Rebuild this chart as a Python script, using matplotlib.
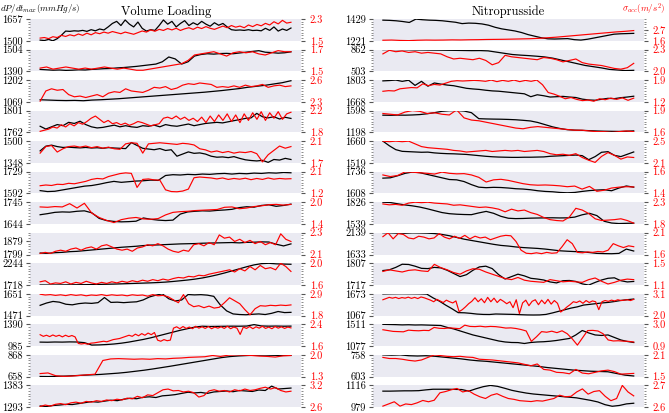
import numpy as np
import matplotlib
matplotlib.use('Agg')
import matplotlib.pyplot as plt

plt.rcParams['font.family'] = 'serif'
plt.rcParams['font.serif'] = ['cmr10']
plt.rcParams['mathtext.fontset'] = 'cm'
plt.rcParams['axes.unicode_minus'] = False

# ---------------- Volume Loading (left column) ----------------
# dP/dt max (mmHg/s) -> black, sigma acc (m/s^2) -> red
vl1_dp = [1505,1502,1510,1500,1515,1540,1570,1568,1572,1570,1575,1568,1580,1572,1585,1578,1600,1625,1640,1610,
          1650,1620,1600,1635,1590,1570,1580,1575,1610,1650,1620,1640,1600,1625,1645,1610,1630,1615,1640,1620,
          1605,1630,1612,1625,1600,1580,1576,1578,1575,1580,1574,1576,1572,1590,1575,1600,1570,1585,1575,1592]
vl1_acc = [1.60,1.62,1.58,1.65,1.62,1.70,1.66,1.72,1.68,1.75,1.70,1.78,1.72,1.80,1.76,1.82,1.78,1.84,1.80,1.76,
           1.82,1.78,1.74,1.80,1.86,1.82,1.90,1.85,1.92,1.88,1.95,1.90,1.96,1.88,1.94,1.98,1.92,2.00,1.95,2.02,
           1.96,1.92,1.98,2.04,1.98,2.06,2.00,2.04,1.98,2.08,2.02,2.10,2.05,2.14,2.08,2.20,2.12,2.25,2.15,2.18]
vl2_dp = [1400,1398,1396,1397,1395,1396,1398,1397,1400,1402,1404,1405,1408,1410,1413,1416,1420,1424,1428,1440,
          1465,1455,1428,1440,1470,1478,1482,1480,1483,1484,1482,1486,1490,1494,1498,1490,1488,1485,1487,1492]
vl2_acc = [1.53,1.54,1.52,1.53,1.54,1.53,1.52,1.53,1.52,1.53,1.54,1.53,1.52,1.53,1.52,1.51,1.51,1.52,1.53,1.54,
           1.55,1.56,1.57,1.60,1.65,1.66,1.67,1.68,1.66,1.64,1.67,1.68,1.67,1.68,1.66,1.65,1.67,1.69,1.68,1.68]
vl3_dp = [1082,1080,1078,1077,1078,1076,1080,1082,1085,1088,1092,1096,1100,1104,1108,1112,1116,1120,1124,1128,
          1133,1138,1144,1150,1158,1164,1170,1178,1186,1198]
vl3_acc = [2.31,2.45,2.48,2.46,2.47,2.40,2.37,2.38,2.36,2.38,2.40,2.37,2.42,2.44,2.43,2.48,2.45,2.44,2.43,2.46,
           2.50,2.49,2.51,2.47,2.49,2.53,2.55,2.54,2.56,2.55,2.54,2.50,2.51,2.50,2.52,2.50,2.53,2.51,2.52,2.54,
           2.50,2.52,2.53,2.51,2.52]
vl4_dp = [1773,1768,1772,1776,1774,1780,1778,1782,1776,1772,1770,1771,1773,1775,1772,1774,1772,1771,1774,1773,
          1775,1772,1776,1774,1773,1775,1777,1774,1776,1778,1779,1780,1779,1781,1783,1785,1787,1788,1796,1790,
          1788,1790,1786,1789,1787]
vl4_acc = [1.82,1.84,1.86,1.90,1.88,1.94,1.90,1.96,1.92,1.98,1.95,2.00,2.06,2.10,2.04,1.98,2.02,1.96,1.98,1.94,
           1.97,1.93,1.96,2.00,1.98,1.95,1.92,1.94,1.96,2.06,2.08,2.05,2.10,2.04,2.08,2.02,2.06,2.00,2.08,1.98,
           2.10,2.00,2.12,2.02,2.14,2.00,2.12,1.98,2.14,2.02,2.16,2.04,2.18,2.02,2.16,2.06,2.18,2.04,2.14,2.17]
vl5_dp = [1432,1465,1472,1462,1456,1458,1455,1453,1456,1452,1454,1450,1455,1452,1450,1448,1490,1470,1450,1445,
          1440,1448,1435,1440,1395,1410,1425,1415,1418,1410,1395,1388,1390,1385,1392,1380,1370,1365,1362,1366,
          1352,1372,1368,1380,1372]
vl5_acc = [1.88,2.00,2.02,1.90,1.96,2.00,2.01,1.99,2.01,1.98,2.00,1.97,1.99,1.96,1.95,2.05,2.07,2.06,1.88,2.05,
           2.06,2.07,2.06,2.05,2.04,2.06,2.05,2.03,1.96,1.94,1.90,1.92,1.89,1.91,1.88,1.90,1.89,1.91,1.87,1.72,
           1.85,1.93,2.01,1.97,2.00]
vl6_dp = [1610,1604,1606,1614,1622,1630,1638,1642,1650,1660,1668,1662,1666,1670,1672,1676,1674,1705,1710,1708,
          1712,1710,1714,1712,1716,1718,1714,1718,1716,1720,1718,1722,1720,1724,1722]
vl6_acc = [1.52,1.55,1.53,1.58,1.57,1.62,1.60,1.65,1.70,1.78,1.82,1.80,1.90,1.96,2.02,2.05,2.03,1.45,1.78,1.80,
           1.76,1.75,1.35,1.28,1.27,1.30,1.38,1.85,1.88,1.86,1.84,1.80,1.84,1.78,1.82,1.79,1.83,1.77,1.82,1.78,
           1.84,1.79,1.82,1.80,1.81]
vl7_dp = [1687,1692,1698,1700,1699,1703,1705,1696,1670,1660,1656,1654,1655,1657,1672,1666,1662,1660,1662,1690,
          1700,1703,1705,1704,1707,1709,1712,1720,1724,1722,1730,1733,1726,1730,1736]
vl7_acc = [1.87,1.86,1.88,1.87,1.96,1.84,1.97,1.70,1.58,1.50,1.44,1.52,1.56,1.58,1.54,1.53,1.55,1.65,1.72,1.74,
           1.75,1.77,1.78,1.79,1.80,1.86,1.87,1.82,1.84,1.88,1.90,1.93,1.94,1.92,1.94]
vl8_dp = [1808,1806,1810,1812,1816,1818,1822,1826,1830,1834,1838,1842,1845,1848,1852,1855,1856,1858,1860,1862,
          1863,1864,1866,1867,1868,1869,1870,1868,1871,1872,1874,1873,1860,1850,1862]
vl8_acc = [2.11,2.12,2.11,2.13,2.14,2.13,2.15,2.16,2.14,2.16,2.17,2.15,2.18,2.19,2.17,2.15,2.14,2.15,2.13,2.16,
           2.17,2.19,2.18,2.20,2.18,2.15,2.13,2.12,2.14,2.13,2.19,2.20,2.18,2.21,2.19,2.28,2.25,2.26,2.22,2.24,
           2.21,2.23,2.20,2.22,2.19,2.21,2.19,2.29,2.24,2.22]
vl9_dp = [1720,1719,1720,1722,1724,1726,1728,1730,1734,1738,1742,1748,1754,1760,1766,1772,1780,1790,1805,1822,
          1840,1862,1890,1925,1965,2010,2060,2110,2160,2205,2235,2244,2230,2225,2220]
vl9_acc = [1.66,1.68,1.62,1.64,1.63,1.66,1.62,1.65,1.63,1.67,1.64,1.62,1.65,1.63,1.66,1.64,1.67,1.65,1.68,1.66,
           1.69,1.67,1.70,1.68,1.71,1.69,1.72,1.74,1.73,1.76,1.75,1.78,1.77,1.80,1.82,1.84,1.86,1.88,1.84,1.90,
           1.86,1.94,1.88,1.96,1.90,1.92,1.88,2.00,1.94,1.85]
vl10_dp = [1556,1575,1588,1582,1565,1560,1570,1575,1572,1578,1620,1580,1582,1578,1582,1585,1600,1625,1640,1651,
           1610,1592,1600,1645,1642,1644,1640,1630,1560,1510,1485,1480,1478,1482,1485,1480,1490,1505,1496,1498]
vl10_acc = [2.88,2.84,2.86,2.82,2.85,2.81,2.86,2.82,2.85,2.80,2.84,2.82,2.86,2.81,2.85,2.82,2.84,2.80,2.85,2.82,
            2.84,2.78,2.86,2.80,2.82,2.75,2.60,2.45,2.86,2.40,2.25,2.30,2.20,2.28,2.18,2.22,2.45,2.70,2.55,2.40,
            2.10,1.84,2.15,2.30,2.28,2.32,2.30,2.33,2.31,2.34]
vl11_dp = [1060,1058,1062,1060,1064,1062,1050,1005,1008,1015,1025,1040,1060,1085,1110,1140,1175,1210,1245,1280,
           1310,1340,1355,1350,1352,1354,1356,1355,1358,1385,1360,1356,1358,1355,1357]
vl11_acc = [2.02,1.96,2.00,1.95,2.01,1.96,2.00,1.94,2.00,1.95,1.99,1.94,
            1.70,1.68,1.70,1.67,1.71,1.72,1.74,1.76,
            1.78,1.76,1.80,1.84,1.86,1.88,1.92,1.96,2.00,1.96,2.04,1.98,2.06,2.00,
            2.08,2.02,2.10,1.82,1.78,1.84,1.80,1.82,
            2.26,2.31,2.24,2.32,2.25,2.30,2.24,2.33,2.26,2.31,2.25,2.32,2.24,2.30,2.26,2.31,2.25,2.33,2.24,2.30,2.26,
            2.03,
            2.30,2.25,2.32,2.24,2.31,2.26,2.33,2.25,2.30,2.24,2.32,2.26,2.31,2.25,2.30,2.27]
vl12_dp = [660,659,662,664,668,672,676,680,686,692,700,710,720,732,745,758,772,786,800,814,
           828,842,852,858,862,865,866,864,862,863]
vl12_acc = [1.40,1.42,1.33,1.31,1.32,1.34,1.36,1.38,1.82,1.87,1.88,1.87,1.86,1.87,1.86,1.88,1.87,1.89,1.90,1.92,
            1.93,1.94,1.98,1.95,1.99,2.00,1.99,1.98,1.96,1.95,1.93,1.97,1.98]
vl13_dp = [1298,1296,1300,1302,1305,1304,1308,1312,1316,1314,1318,1322,1320,1326,1330,1328,1334,1336,1333,1340,
           1342,1345,1350,1355,1352,1354,1350,1356,1358,1360,1357,1362,1360,1358,1364,1362,1380,1368,1370,1372]
vl13_acc = [2.62,2.66,2.63,2.68,2.70,2.67,2.72,2.74,2.71,2.76,2.74,2.78,2.76,2.80,2.78,2.82,2.80,2.85,2.83,2.90,
            2.86,2.94,2.92,3.00,3.08,3.10,3.05,3.06,3.02,3.04,3.00,2.88,2.92,3.05,3.08,3.04,3.06,3.02,3.08,3.05,
            3.10,3.06,3.08,3.12,3.15,3.10,3.14,3.06,3.02,3.04]

vl_dp_ticks = [(1500, 1657), (1390, 1504), (1069, 1202), (1762, 1801), (1348, 1500), (1592, 1729), (1644, 1745),
               (1799, 1879), (1718, 2244), (1471, 1651), (985, 1390), (658, 868), (1293, 1383)]
vl_acc_ticks = [(1.5, 2.3), (1.5, 1.7), (2.3, 2.6), (1.8, 2.2), (1.7, 2.1), (1.2, 2.1), (1.4, 2.0),
                (2.1, 2.3), (1.6, 2.0), (1.8, 2.9), (1.6, 2.4), (1.3, 2.0), (2.6, 3.2)]

# ---------------- Nitroprusside (right column) ----------------
np1_dp = [1418,1416,1412,1405,1396,1428,1422,1418,1416,1412,1405,1398,1385,1390,1388,1382,1370,1350,1335,1325,
          1315,1300,1280,1265,1250,1240,1238,1240,1242,1232,1228,1236,1248,1260,1272,1284,1288,1290,1292]
np1_acc = [1.66,1.68,1.64,1.62,1.66,1.68,1.67,1.68,1.70,1.69,1.71,1.72,1.74,1.75,1.76,1.78,1.80,1.82,1.86,1.92,
           1.98,2.06,2.14,2.22,2.30,2.38,2.46,2.54,2.60,2.68]
np2_dp = [860,862,860,858,856,855,853,852,850,848,846,844,845,840,820,800,780,770,762,752,
          740,720,690,660,630,600,580,560,535,525,515,520]
np2_acc = [2.24,2.29,2.27,2.28,2.26,2.27,2.25,2.26,2.25,2.24,2.20,2.17,2.18,2.17,2.16,2.18,2.15,2.09,2.12,2.22,
           2.20,2.19,2.18,2.17,2.16,2.19,2.18,2.16,2.13,2.15,2.17,2.12,2.10,2.09,2.08,2.06,2.04,2.03,2.05,2.11]
np3_dp = [1798,1800,1803,1795,1802,1770,1795,1765,1785,1778,1772,1768,1760,1752,1748,1745,1740,1736,1734,1730,
          1726,1722,1718,1700,1712,1706,1698,1700,1702,1698,1695,1685,1680,1678,1684,1690,1688,1694,1698,1703]
np3_acc = [1.54,1.56,1.55,1.62,1.64,1.66,1.65,1.78,1.72,1.76,1.74,1.80,1.86,1.88,1.87,1.88,1.89,1.88,1.86,1.90,
           1.85,1.89,1.86,1.90,1.85,1.89,1.86,1.90,1.75,1.50,1.45,1.38,1.30,1.34,1.28,1.24,1.26,1.22,1.30,1.27,
           1.32,1.28,1.33,1.25,1.32]
np4_dp = [1514,1512,1515,1514,1518,1525,1540,1560,1585,1596,1598,1590,1560,1450,1445,1442,1440,1436,1430,1420,
          1408,1380,1340,1300,1270,1248,1240,1236,1230,1224,1220,1218,1216,1220,1226]
np4_acc = [1.86,1.85,1.84,1.88,1.90,1.89,1.86,1.87,1.85,1.84,1.91,1.80,1.77,1.76,1.74,1.72,1.70,1.68,1.66,1.65,
           1.67,1.68,1.67,1.66,1.65,1.64,1.63,1.63,1.62,1.61,1.61,1.60,1.61,1.62,1.61]
np5_dp = [1660,1630,1605,1594,1592,1590,1588,1589,1584,1581,1579,1578,1576,1574,1570,1566,1562,1559,1557,1556,
          1555,1555,1556,1556,1557,1558,1562,1564,1566,1568,1570,1566,1540,1560,1588,1592,1568,1560,1575,1590]
np5_acc = [2.50,2.49,2.50,2.49,2.50,2.45,2.40,2.38,2.37,2.36,2.35,2.33,2.32,2.30,2.31,2.32,2.33,2.31,2.32,2.33,
           2.32,2.33,2.31,2.32,2.33,2.31,2.27,2.25,2.26,2.24,2.27,2.20,2.15,2.11,2.22,2.29,2.24,2.17,2.21,2.20]
np6_dp = [1698,1700,1712,1726,1734,1730,1720,1710,1700,1690,1688,1678,1660,1645,1642,1644,1643,1640,1636,1634,
          1630,1624,1620,1618,1614,1612,1614,1620,1625,1628,1630,1624,1640,1652,1645]
np6_acc = [1.570,1.555,1.565,1.598,1.595,1.590,1.585,1.578,1.596,1.585,1.580,1.582,1.570,1.548,1.505,1.525,1.530,
           1.520,1.505,1.490,1.480,1.476,1.478,1.475,1.470,1.462,1.468,1.440,1.465,1.420,1.430,1.450,1.458,1.462,1.460]
np7_dp = [1826,1822,1805,1790,1778,1762,1740,1715,1690,1675,1668,1664,1662,1685,1705,1680,1640,1615,1610,1612,
          1616,1618,1620,1621,1619,1620,1630,1660,1680,1650,1575,1552,1545,1548,1550]
np7_acc = [2.26,2.24,2.25,2.23,2.28,2.30,2.29,2.30,2.28,2.27,2.26,2.23,2.24,2.22,2.20,2.18,2.19,2.17,2.14,2.08,
           2.14,2.10,2.12,2.06,2.02,1.95,1.90,1.88,1.87,1.96,2.16,2.12,2.04,1.92,1.88,1.89,1.90,1.92,1.88,1.82]
np8_dp = [2139,2136,2130,2128,2136,2134,2130,2120,2100,2070,2030,1990,1960,1930,1900,1870,1845,1830,1810,1795,
          1785,1775,1760,1740,1720,1710,1702,1695,1680,1660,1655,1652,1660,1760,1715]
np8_acc = [2.01,2.10,1.96,2.08,2.06,1.98,1.96,2.02,2.00,1.96,1.98,2.08,2.00,1.96,2.02,1.97,2.04,1.96,2.02,1.98,
           2.00,1.94,1.98,2.02,2.04,2.03,1.90,1.70,1.63,1.62,1.64,1.62,1.65,1.63,1.64,1.78,1.94,1.85,1.65,1.64,
           1.66,1.65,1.67,1.66,1.70,1.85,1.80,1.76,1.80,1.78]
np9_dp = [1777,1780,1790,1803,1802,1795,1786,1785,1790,1788,1778,1765,1752,1760,1778,1792,1795,1785,1760,1742,
          1752,1762,1755,1745,1742,1738,1730,1726,1735,1736,1732,1722,1717,1728,1738,1745,1747,1735,1730,1732]
np9_acc = [1.35,1.38,1.36,1.34,1.37,1.38,1.36,1.35,1.48,1.42,1.38,1.33,1.30,1.36,1.40,1.39,1.34,1.30,1.26,1.22,
           1.20,1.24,1.19,1.17,1.16,1.15,1.20,1.18,1.16,1.17,1.16,1.15,1.20,1.23,1.17,1.12,1.15,1.19,1.21,1.20]
np10_dp = [1670,1673,1675,1676,1675,1674,1672,1665,1560,1470,1360,1260,1150,1145,1130,1110,1100,1098,1112,1108,
           1104,1100,1092,1086,1084,1086,1100,1140,1185,1230,1276,1310,1360,1380,1400,1420,1435,1460,1490,1510,1527]
np10_acc = [2.80,2.86,2.92,2.88,2.92,2.86,2.91,2.88,2.93,2.87,2.92,2.86,2.94,2.90,2.84,2.78,2.70,2.82,2.74,2.66,
            2.78,2.70,2.64,2.74,2.20,2.30,2.44,2.60,2.72,2.90,2.70,2.85,2.65,2.92,2.70,2.88,2.66,2.82,2.72,2.60,
            2.70,2.40,2.80,2.10,2.64,2.78,2.50,2.72,2.80,2.55,2.78,2.60,2.82,2.58,2.76,2.62,2.18,2.30,2.44,2.56,
            2.70,2.66,2.74,2.62,2.76,2.66,2.74,2.70,2.30,2.70,2.76,2.72,2.78,2.74,2.80,2.76,2.78,2.80,2.76,2.82]
np11_dp = [1511,1508,1505,1500,1503,1498,1500,1496,1492,1488,1450,1420,1380,1340,1300,1270,1240,1210,1180,1160,
           1150,1148,1130,1150,1160,1165,1175,1190,1210,1230,1300,1388,1340,1300,1290,1300,1250,1200,1170,1150]
np11_acc = [2.48,2.40,2.32,2.30,2.28,2.44,2.40,2.38,2.42,2.40,2.70,2.62,2.60,2.66,2.62,2.58,2.92,2.80,2.78,2.82,
            2.76,2.80,2.78,2.72,2.64,2.66,2.60,2.50,2.36,1.36,1.80,2.30,2.24,2.34,2.20,2.38,2.10,1.60,1.00,1.70,
            2.40,2.42,2.36,2.10,1.50,1.40,1.42,1.38,1.36,1.30]
np12_dp = [758,756,758,752,750,752,748,742,736,730,722,716,712,706,700,694,688,682,676,668,
           662,656,650,646,642,640,638,626,614,608]
np12_acc = [2.03,2.00,2.00,1.98,1.95,1.93,1.96,2.03,2.10,2.08,2.06,2.05,2.06,2.04,2.03,1.98,1.97,1.96,1.94,1.92,
            1.90,1.88,1.84,1.80,1.85,1.70,1.68,1.62,1.61,1.58,1.70,1.60,1.58,1.62,1.66,1.68,1.64,1.57,1.58,1.59]
np13_dp = [1080,1080,1081,1082,1082,1083,1088,1092,1092,1092,1091,1090,1080,1095,1108,1116,1110,1098,1085,1076,
           1068,1062,1058,1054,1050,1046,1042,1038,1030,1022,1012,995,985,990,1000,1004]
np13_acc = [2.605,2.615,2.625,2.605,2.615,2.612,2.620,2.631,2.625,2.632,2.666,2.672,2.680,2.686,2.670,2.676,2.660,
            2.648,2.640,2.655,2.662,2.650,2.640,2.636,2.630,2.628,2.626,2.630,2.628,2.634,2.640,2.655,2.648,2.650,
            2.670,2.684,2.660,2.672,2.676,2.650,2.630,2.640,2.700,2.670,2.652]

np_dp_ticks = [(1221, 1429), (503, 862), (1668, 1803), (1198, 1598), (1519, 1660), (1608, 1736), (1539, 1826),
               (1633, 2139), (1717, 1807), (1067, 1673), (1077, 1511), (603, 758), (979, 1116)]
np_acc_ticks = [(1.6, 2.7), (2.0, 2.3), (1.2, 1.9), (1.6, 1.9), (2.1, 2.5), (1.4, 1.6), (1.8, 2.3),
                (1.6, 2.1), (1.1, 1.5), (2.0, 3.1), (0.9, 3.0), (1.5, 2.1), (2.6, 2.7)]


def draw_panel(ax, dp, acc, dp_lim, acc_lim, dp_ticks, acc_ticks):
    ax.set_facecolor('#EAEAF2')
    for s in ax.spines.values():
        s.set_visible(False)
    x = np.linspace(0, 1, len(dp))
    ax.plot(x, dp, color='black', linewidth=0.9)
    ax.set_xlim(-0.04, 1.042)
    ax.set_xticks([])
    ax.set_ylim(*dp_lim)
    ax.set_yticks(list(dp_ticks))
    ax.set_yticklabels([str(v) for v in dp_ticks])
    ax.set_yticks(np.linspace(dp_lim[0], dp_lim[1], 9), minor=True)
    ax.tick_params(axis='y', which='major', length=3, width=0.8, pad=2, labelsize=7.5, color='#555555')
    ax.tick_params(axis='y', which='minor', length=1.5, width=0.6, color='#777777')

    ax2 = ax.twinx()
    for s in ax2.spines.values():
        s.set_visible(False)
    x2 = np.linspace(0, 1, len(acc))
    ax2.plot(x2, acc, color='red', linewidth=0.85)
    ax2.set_xlim(-0.04, 1.042)
    ax2.set_ylim(*acc_lim)
    ax2.set_yticks(list(acc_ticks))
    ax2.set_yticklabels(['%.1f' % v for v in acc_ticks])
    ax2.set_yticks(np.linspace(acc_lim[0], acc_lim[1], 9), minor=True)
    ax2.tick_params(axis='y', which='major', length=3, width=0.8, pad=3, labelsize=7.5,
                    color='#555555', labelcolor='red')
    ax2.tick_params(axis='y', which='minor', length=1.5, width=0.6, color='#777777')


def plot_all():
    fig, axes = plt.subplots(13, 2, figsize=(6.69, 4.13), dpi=100,
                             gridspec_kw=dict(left=0.045, right=0.963, top=0.954, bottom=0.014,
                                              hspace=0.40, wspace=0.263))

    vl_dp = [vl1_dp, vl2_dp, vl3_dp, vl4_dp, vl5_dp, vl6_dp, vl7_dp, vl8_dp, vl9_dp, vl10_dp, vl11_dp, vl12_dp, vl13_dp]
    vl_acc = [vl1_acc, vl2_acc, vl3_acc, vl4_acc, vl5_acc, vl6_acc, vl7_acc, vl8_acc, vl9_acc, vl10_acc,
              vl11_acc, vl12_acc, vl13_acc]
    np_dp = [np1_dp, np2_dp, np3_dp, np4_dp, np5_dp, np6_dp, np7_dp, np8_dp, np9_dp, np10_dp, np11_dp, np12_dp, np13_dp]
    np_acc = [np1_acc, np2_acc, np3_acc, np4_acc, np5_acc, np6_acc, np7_acc, np8_acc, np9_acc, np10_acc,
              np11_acc, np12_acc, np13_acc]

    for i in range(13):
        # volume loading
        dp_lim = vl_dp_ticks[i]
        if i == 7:
            dp_lim = (1799, 1928)  # label 1879 sits below the top here
        draw_panel(axes[i, 0], vl_dp[i], vl_acc[i], dp_lim, vl_acc_ticks[i], vl_dp_ticks[i], vl_acc_ticks[i])

        # nitroprusside
        acc_lim = np_acc_ticks[i]
        if i == 0:
            acc_lim = (1.6, 3.9)  # label 2.7 is mid-axis here
        draw_panel(axes[i, 1], np_dp[i], np_acc[i], np_dp_ticks[i], acc_lim, np_dp_ticks[i], np_acc_ticks[i])

    axes[0, 0].set_title('Volume Loading', fontsize=9, pad=3)
    axes[0, 1].set_title('Nitroprusside', fontsize=9, pad=3)
    fig.text(0.0, 0.995, r'$dP/dt_{max}(mmHg/s)$', fontsize=6.5, ha='left', va='top')
    fig.text(0.962, 0.995, r'$\sigma_{acc}(m/s^2)$', fontsize=6.5, ha='center', va='top', color='red')

    fig.savefig('out.png', dpi=100)


if __name__ == "__main__":
    plot_all()
